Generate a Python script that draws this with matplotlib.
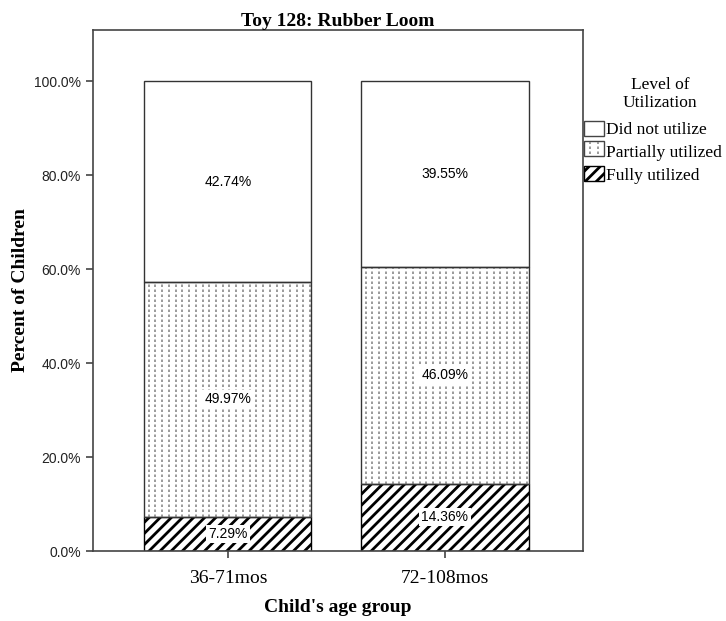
import matplotlib.pyplot as plt
import numpy as np
from matplotlib.patches import Patch, Rectangle
from matplotlib.lines import Line2D
from matplotlib.legend_handler import HandlerBase

groups = ['36-71mos', '72-108mos']
fully = [7.29, 14.36]
partially = [49.97, 46.09]
did_not = [42.74, 39.55]
yticks = [0, 20, 40, 60, 80, 100]

serif = 'Liberation Serif'
sans = 'Liberation Sans'
plt.rcParams['hatch.linewidth'] = 2.0
plt.rcParams['hatch.color'] = 'black'

DOT_COLOR = '#8a8a8a'
DOT_DASH = (0, (1.5, 1.5))


class DotHandler(HandlerBase):
    # legend swatch with vertical dotted lines, like the bars
    def create_artists(self, legend, orig, x0, y0, width, height, fontsize, trans):
        arts = [Rectangle((x0, y0), width, height, facecolor='white',
                          edgecolor='#444444', lw=1, transform=trans)]
        for xx in np.linspace(x0 + width * 0.3, x0 + width * 0.7, 2):
            arts.append(Line2D([xx, xx], [y0 + 1, y0 + height - 1], color=DOT_COLOR,
                               lw=1.2, linestyle=DOT_DASH, transform=trans))
        return arts


fig = plt.figure(figsize=(7.26, 6.21), dpi=100)
ax = fig.add_axes([0.128, 0.1127, 0.675, 0.839])

x = np.arange(len(groups))
w = 0.77
b1 = ax.bar(x, fully, w, color='white', edgecolor='black', hatch='///', linewidth=1, zorder=2)
b2 = ax.bar(x, partially, w, bottom=fully, color='white', edgecolor='#333333',
            linewidth=1, zorder=2)
bot3 = np.array(fully) + np.array(partially)
b3 = ax.bar(x, did_not, w, bottom=bot3, color='white', edgecolor='#333333', linewidth=1, zorder=2)

# vertical dotted fill pattern for "Partially utilized"
for p in b2:
    px, py, pw, ph = p.get_x(), p.get_y(), p.get_width(), p.get_height()
    xs = np.arange(px + 0.02, px + pw, 0.031)
    lc = ax.vlines(xs, py, py + ph, colors=DOT_COLOR, linewidth=1.2,
                   linestyles=[DOT_DASH], zorder=2.5)
    lc.set_clip_path(p)
    p.set_zorder(2.6)
    p.set_facecolor('none')

for i in range(len(groups)):
    ax.text(x[i], fully[i] / 2, f'{fully[i]:.2f}%', ha='center', va='center',
            fontsize=10, family=sans, zorder=5,
            bbox=dict(facecolor='white', edgecolor='none', pad=1.5))
    ax.text(x[i], fully[i] + partially[i] / 2, f'{partially[i]:.2f}%', ha='center',
            va='center', fontsize=10, family=sans, zorder=5,
            bbox=dict(facecolor='white', edgecolor='none', pad=1.5))
    ax.text(x[i], bot3[i] + did_not[i] / 2, f'{did_not[i]:.2f}%', ha='center',
            va='center', fontsize=10, family=sans, zorder=5)

ax.set_xlim(-0.622, 1.636)
ax.set_ylim(0, 110.9)
ax.set_yticks(yticks)
ax.set_yticklabels([f'{v:.1f}%' for v in yticks], family=sans, fontsize=10, color='#222222')
ax.set_xticks(x)
ax.set_xticklabels(groups, family=serif, fontsize=14)
ax.tick_params(axis='both', length=5, width=1.2, color='#444444')
ax.tick_params(axis='x', pad=9)
for s in ax.spines.values():
    s.set_color('#444444')
    s.set_linewidth(1.2)

ax.set_ylabel('Percent of Children', family=serif, fontsize=14, fontweight='bold', labelpad=4)
ax.set_xlabel("Child's age group", family=serif, fontsize=14, fontweight='bold', labelpad=8)
ax.set_title('Toy 128: Rubber Loom', family=serif, fontsize=14, fontweight='bold', pad=1)

fig.text(0.909, 1 - 94 / 621, 'Level of\nUtilization', ha='center', va='center',
         family=serif, fontsize=12.5, linespacing=1.15)

handles = [Patch(facecolor='white', edgecolor='#444444', label='Did not utilize'),
           Patch(facecolor='white', edgecolor='#444444', label='Partially utilized'),
           Patch(facecolor='white', edgecolor='black', hatch='///', label='Fully utilized')]
leg = fig.legend(handles=handles, loc='upper left', bbox_to_anchor=(0.805, 1 - 121 / 621),
                 frameon=False, handler_map={handles[1]: DotHandler()},
                 prop={'family': serif, 'size': 12.5}, handlelength=1.1, handleheight=0.95,
                 handletextpad=0.15, labelspacing=0.3, borderaxespad=0, borderpad=0)

fig.savefig('out.png', dpi=100)
